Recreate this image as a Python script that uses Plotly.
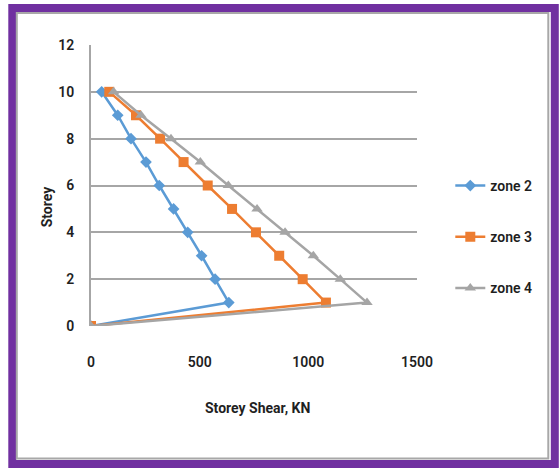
import plotly.graph_objects as go

# Storey shear distribution for three seismic zones
storeys = [10, 9, 8, 7, 6, 5, 4, 3, 2, 1, 0]
zone2 = [49, 123, 184, 253, 314, 380, 445, 509, 571, 634, 0]
zone3 = [84, 207, 318, 426, 537, 649, 759, 866, 974, 1081, 0]
zone4 = [104, 230, 368, 503, 632, 764, 893, 1023, 1147, 1270, 0]

series_names = ["zone 2", "zone 3", "zone 4"]
series_colors = ["#5B9BD5", "#ED7D31", "#A5A5A5"]
series_symbols = ["diamond", "square", "triangle-up"]
series_sizes = [9, 10, 10]

x_ticks = [0, 500, 1000, 1500]
y_ticks = [0, 2, 4, 6, 8, 10, 12]

FONT = "Liberation Sans Narrow, Roboto, sans-serif"
TEXT = "#1F1F1F"

W, H = 559, 470
ML, MR, MT, MB = 90.7, 142.3, 45, 144
PW, PH = W - ML - MR, H - MT - MB


def px(x):
    return (x - ML) / PW


def py(y):
    return (H - MB - y) / PH


fig = go.Figure()
for name, vals, col, sym, sz in zip(series_names, [zone2, zone3, zone4],
                                    series_colors, series_symbols, series_sizes):
    fig.add_trace(go.Scatter(
        x=vals, y=storeys, name=name, mode="lines+markers",
        line=dict(color=col, width=2.5),
        marker=dict(symbol=sym, size=sz, color=col),
        legendgroup=name,
    ))

shapes = [
    # outer purple frame
    dict(type="rect", xref="paper", yref="paper",
         x0=px(12), x1=px(554.5), y0=py(8), y1=py(464),
         line=dict(color="#7030A0", width=8), layer="below"),
    # inner grey frame
    dict(type="rect", xref="paper", yref="paper",
         x0=px(16.5), x1=px(548), y0=py(13), y1=py(458.5),
         line=dict(color="#A8A8A8", width=2), layer="below"),
]

tick_font = dict(family=FONT, size=14, color=TEXT, weight=600)

fig.update_layout(
    width=W, height=H,
    margin=dict(l=ML, r=MR, t=MT, b=MB),
    paper_bgcolor="white", plot_bgcolor="white",
    font=dict(family=FONT, color=TEXT, size=14),
    shapes=shapes,
    showlegend=True,
    legend=dict(x=px(450), y=py(237), xanchor="left", yanchor="middle",
                tracegroupgap=30, font=tick_font,
                bgcolor="rgba(0,0,0,0)"),
    xaxis=dict(range=[0, 1500], tickvals=x_ticks, showgrid=False,
               zeroline=False, showline=False, ticks="",
               ticklabelstandoff=26, tickfont=tick_font),
    yaxis=dict(range=[0, 12], tickvals=y_ticks, showgrid=True,
               gridcolor="#A6A6A6", gridwidth=2, zeroline=False,
               showline=True, linecolor="#A6A6A6", linewidth=2, ticks="",
               ticklabelstandoff=12, tickfont=tick_font),
    annotations=[
        dict(text="<b>Storey Shear, KN</b>", xref="paper", yref="paper",
             x=px(257), y=py(408), xanchor="center", yanchor="middle",
             showarrow=False, font=dict(family=FONT, size=14, color=TEXT)),
        dict(text="<b>Storey</b>", xref="paper", yref="paper",
             x=px(47), y=py(206), xanchor="center", yanchor="middle",
             showarrow=False, textangle=-90,
             font=dict(family=FONT, size=14, color=TEXT)),
    ],
)

fig.write_html("out.html")
